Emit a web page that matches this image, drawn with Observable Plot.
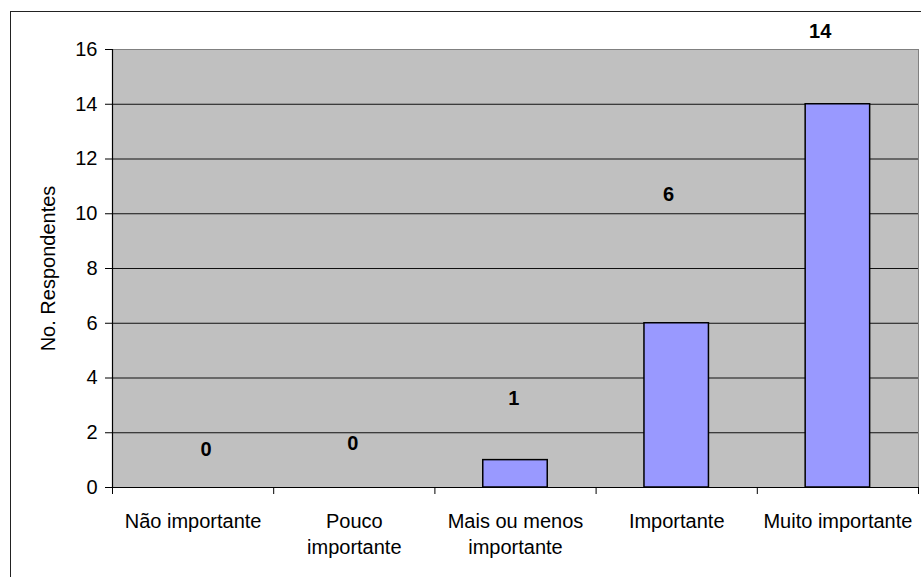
<!DOCTYPE html>
<html><head><meta charset="utf-8">
<script src="https://cdn.jsdelivr.net/npm/d3@7"></script>
<script src="https://cdn.jsdelivr.net/npm/@observablehq/plot@0.6"></script>
<style>
body{margin:0;background:#fff;}
#wrap{position:relative;width:921px;height:577px;overflow:hidden;}
#border{position:absolute;left:10px;top:11px;width:2000px;height:2000px;border-left:1px solid #222;border-top:1px solid #222;pointer-events:none;}
#chart{position:absolute;left:0;top:0;}
</style></head><body><div id="wrap"><div id="chart"></div><div id="border"></div></div>
<script>
const categories = ["Não importante", "Pouco\nimportante", "Mais ou menos\nimportante", "Importante", "Muito importante"];
const respondents = [0, 0, 1, 6, 14];
const yTicks = [0, 2, 4, 6, 8, 10, 12, 14, 16];
const gridValues = [2, 4, 6, 8, 10, 12, 14];
// where each value label sits (category-index units, value units)
const labelAtX = [0.58, 1.49, 2.49, 3.45, 4.39];
const labelAtY = [1.39, 1.62, 3.25, 10.7, 16.66];

const bars = categories.map((c, i) => ({cat: c, i, x1: i + 0.3, x2: i + 0.7, v: respondents[i]}));
const labels = respondents.map((v, i) => ({v, x: labelAtX[i], y: labelAtY[i]}));
const catLabels = categories.map((c, i) => ({c, x: i + 0.5}));

const font = "'Liberation Sans', Arial, sans-serif";

const chart = Plot.plot({
  width: 921,
  height: 577,
  marginLeft: 112,
  marginTop: 49,
  marginRight: 3,
  marginBottom: 90,
  style: {fontFamily: font, fontSize: "20px", background: "transparent", color: "#000"},
  x: {domain: [0, 5], axis: null},
  y: {domain: [0, 16], axis: null},
  marks: [
    Plot.frame({fill: "#C0C0C0", stroke: null}),
    Plot.ruleY(gridValues, {stroke: "#111", strokeWidth: 1}),
    Plot.frame({stroke: "#808080", strokeWidth: 1}),
    Plot.rectY(bars, {x1: "x1", x2: "x2", y: "v", fill: "#9999FF", stroke: "#000", strokeWidth: 1.5}),
    Plot.ruleX([0], {stroke: "#000", strokeWidth: 1.2}),
    Plot.ruleY([0], {stroke: "#000", strokeWidth: 1.2}),
    Plot.axisY({ticks: yTicks, tickSize: 7, tickPadding: 8, fontSize: 20, label: null, tickFormat: d => String(d)}),
    Plot.axisX({ticks: d3.range(6), tickSize: 7, tickFormat: () => "", label: null}),
    Plot.text(catLabels, {x: "x", y: 0, text: "c", dy: 22, lineAnchor: "top", lineHeight: 1.3, fontSize: 20, fill: "#000"}),
    Plot.text(labels, {x: "x", y: "y", text: d => String(d.v), fontWeight: "bold", fontSize: 20, fill: "#000"}),
    Plot.text(["No. Respondentes"], {frameAnchor: "left", textAnchor: "middle", rotate: -90, dx: -64, fontSize: 20, fill: "#000"})
  ]
});
document.getElementById("chart").appendChild(chart);
</script>
</body></html>
